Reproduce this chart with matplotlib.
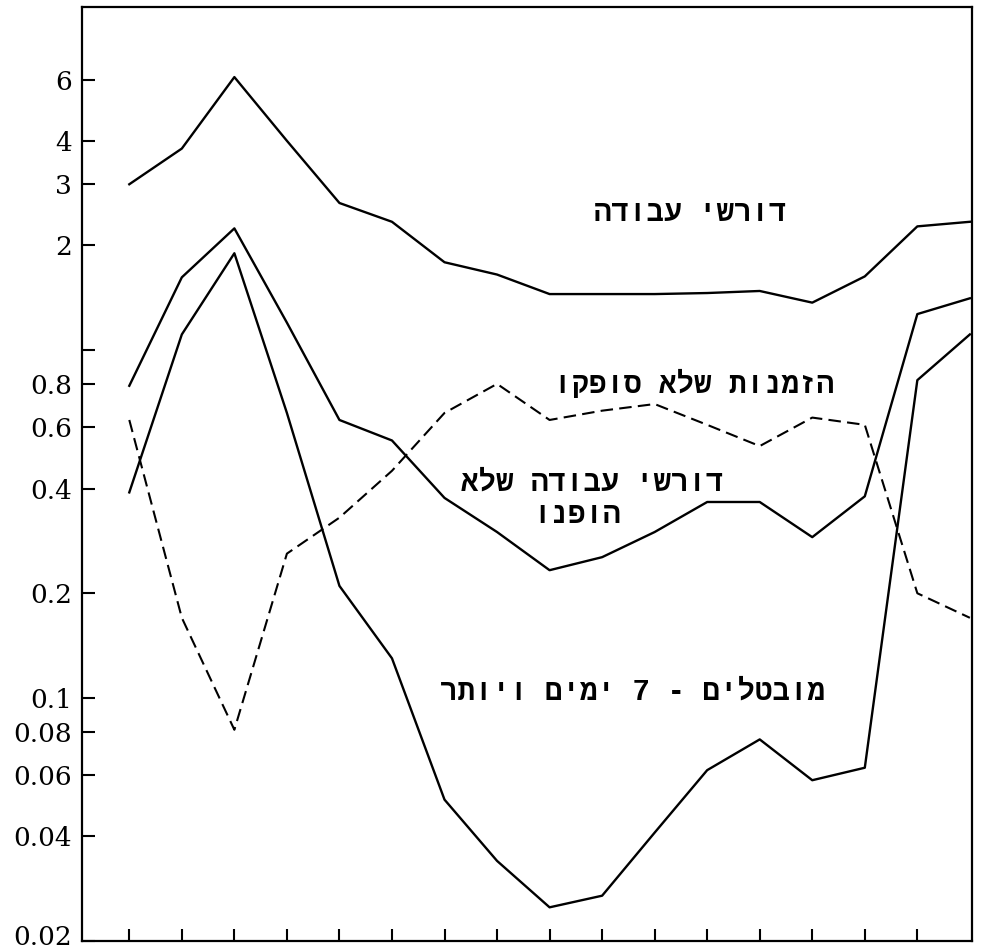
import matplotlib
matplotlib.use("Agg")
import matplotlib.pyplot as plt
from matplotlib.transforms import offset_copy

# months along the x axis (17 points, ticks on the first 16)
months = list(range(1, 18))
tick_months = list(range(1, 17))

job_seekers = [3.0, 3.8, 6.1, 4.0, 2.65, 2.34, 1.79, 1.65, 1.45, 1.45, 1.45, 1.46, 1.48, 1.37, 1.63, 2.27, 2.34]
unplaced_seekers = [0.79, 1.62, 2.24, 1.2, 0.63, 0.55, 0.376, 0.30, 0.233, 0.254, 0.30, 0.366, 0.366, 0.29, 0.38, 1.27, 1.41]
unemployed_7days = [0.39, 1.11, 1.9, 0.66, 0.21, 0.13, 0.051, 0.034, 0.025, 0.027, 0.041, 0.062, 0.076, 0.058, 0.063, 0.82, 1.11]
unfilled_orders = [0.63, 0.17, 0.081, 0.26, 0.33, 0.45, 0.66, 0.80, 0.63, 0.67, 0.70, 0.61, 0.53, 0.64, 0.61, 0.20, 0.17]

y_ticks = [0.02, 0.04, 0.06, 0.08, 0.1, 0.2, 0.4, 0.6, 0.8, 1, 2, 3, 4, 6]
y_tick_labels = ["0.02", "0.04", "0.06", "0.08", "0.1", "0.2", "0.4", "0.6", "0.8", "", "2", "3", "4", "6"]

# series labels (logical order, reversed for display since matplotlib has no bidi)
lbl_seekers = "דורשי עבודה"
lbl_orders = "הזמנות שלא סופקו"
lbl_unplaced = ["דורשי עבודה שלא", "הופנו"]
lbl_unemployed = "מובטלים - 7 ימים ויותר"

W, H = 981, 949

def rtl(s):
	return s[::-1]

def put_label(txt, px, py):
	# px, py: pixel position from the top-left of the figure
	fig.text(px / W, 1 - py / H, rtl(txt), ha="center", va="center",
		fontsize=21, fontweight="bold", family=["Liberation Mono", "DejaVu Sans"])

fig = plt.figure(figsize=(W / 100, H / 100), dpi=100)
ax = fig.add_axes([0.0836, 0.0084, 0.9072, 0.9842])

ax.plot(months, job_seekers, color="black", lw=1.7)
ax.plot(months, unplaced_seekers, color="black", lw=1.7)
ax.plot(months, unemployed_7days, color="black", lw=1.7)
ax.plot(months, unfilled_orders, color="black", lw=1.5, dashes=(6, 3))

ax.set_yscale("log")
ax.set_ylim(0.02, 9.7)
ax.set_xlim(0.1, 17.04)

ax.minorticks_off()
ax.set_yticks(y_ticks)
ax.set_yticklabels(y_tick_labels, family="DejaVu Serif", fontsize=19)
ax.set_xticks(tick_months)
ax.set_xticklabels([])
ax.tick_params(axis="both", direction="in", length=9, width=1.5, pad=7)

# lowest label sits on the bottom edge, lift it a little so it is not cut
lab0 = ax.get_yticklabels()[0]
lab0.set_transform(offset_copy(lab0.get_transform(), fig=fig, x=0, y=6, units="dots"))

for sp in ax.spines.values():
	sp.set_linewidth(1.6)

put_label(lbl_seekers, 690, 213)
put_label(lbl_orders, 694, 384)
put_label(lbl_unplaced[0], 592, 483)
put_label(lbl_unplaced[1], 577, 515)
put_label(lbl_unemployed, 633, 692)

plt.savefig("out.png")
